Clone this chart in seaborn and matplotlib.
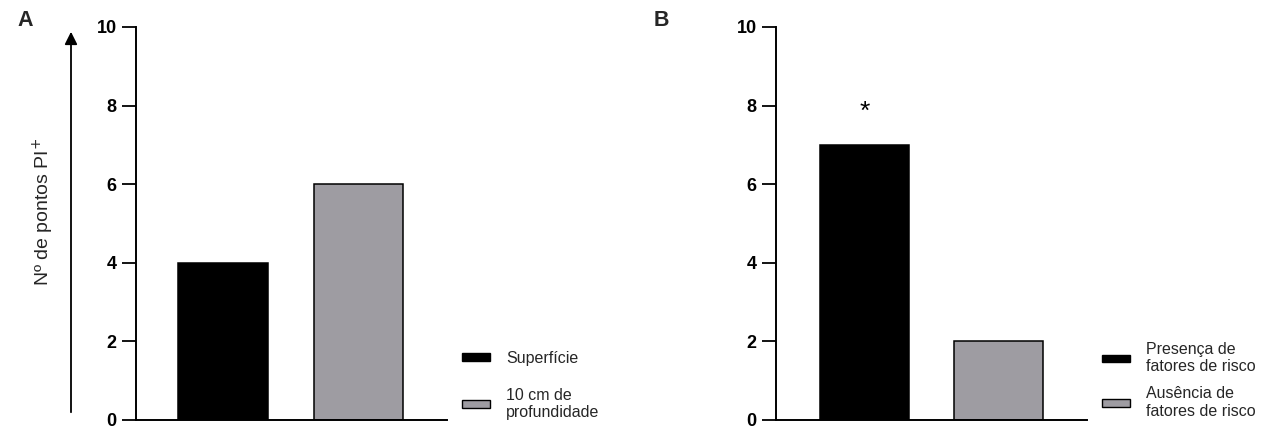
import matplotlib
matplotlib.use("Agg")
import matplotlib.pyplot as plt
import seaborn as sns
import pandas as pd
from matplotlib.patches import Patch, FancyArrowPatch

sns.set_theme(style="ticks")
plt.rcParams['font.family'] = ['Liberation Sans', 'DejaVu Sans']

cats_a = ["Superfície", "10 cm de\nprofundidade"]
vals_a = [4, 6]
cats_b = ["Presença de\nfatores de risco", "Ausência de\nfatores de risco"]
vals_b = [7, 2]
yticks = [0, 2, 4, 6, 8, 10]
ylabel = "Nº de pontos PI$^{+}$"
colors = ["#000000", "#9e9ca2"]

W, H = 1271, 426
fig = plt.figure(figsize=(W / 100, H / 100), dpi=100)

def fx(px):
    return px / W

def fy(py):
    return 1 - py / H

def panel(x0, x1, cats, vals, xlim, leg_x, leg_top, labelspacing):
    ax = fig.add_axes([fx(x0), fy(420), fx(x1 - x0), fy(27) - fy(420)])
    df = pd.DataFrame({"cat": cats, "val": vals})
    sns.barplot(data=df, x="cat", y="val", hue="cat", palette=colors, legend=False,
                width=0.66, edgecolor="black", linewidth=1.1, ax=ax, saturation=1)
    ax.set_ylim(0, 10)
    ax.set_xlim(*xlim)
    ax.set_yticks(yticks)
    ax.set_yticklabels([str(t) for t in yticks], fontsize=13, fontweight="bold")
    ax.set_xticks([])
    ax.set_xlabel("")
    ax.set_ylabel("")
    for s in ["top", "right"]:
        ax.spines[s].set_visible(False)
    for s in ["left", "bottom"]:
        ax.spines[s].set_linewidth(1.4)
        ax.spines[s].set_color("black")
    ax.tick_params(axis="y", length=10, width=1.3, pad=4, colors="black")
    ax.set_facecolor("none")
    handles = [Patch(facecolor=c, edgecolor="black", linewidth=1.0) for c in colors]
    fig.legend(handles, cats, loc="upper left", bbox_to_anchor=(fx(leg_x), fy(leg_top)),
               frameon=False, fontsize=11.5, handlelength=1.75, handleheight=0.37,
               handletextpad=1.0, labelspacing=labelspacing, borderpad=0, borderaxespad=0)
    return ax

ax_a = panel(136, 447, cats_a, vals_a, (-0.642, 1.653), 462, 351, 1.35)
ax_b = panel(776, 1087, cats_b, vals_b, (-0.66, 1.66), 1102, 342, 0.75)

ax_b.text(0, 7.85, "*", ha="center", va="center", fontsize=19, color="black")

fig.text(fx(17), fy(20), "A", fontsize=15.5, fontweight="bold", ha="left", va="center")
fig.text(fx(654), fy(21), "B", fontsize=15.5, fontweight="bold", ha="left", va="center")

fig.text(fx(43), fy(212), ylabel, rotation=90, fontsize=14, ha="center", va="center")
arrow = FancyArrowPatch((fx(71), fy(415)), (fx(71), fy(29)), transform=fig.transFigure,
                        arrowstyle="-|>,head_length=5,head_width=2.5", color="black",
                        linewidth=1.3, mutation_scale=1.5)
fig.add_artist(arrow)

fig.savefig("out.png", dpi=100, facecolor="white")
